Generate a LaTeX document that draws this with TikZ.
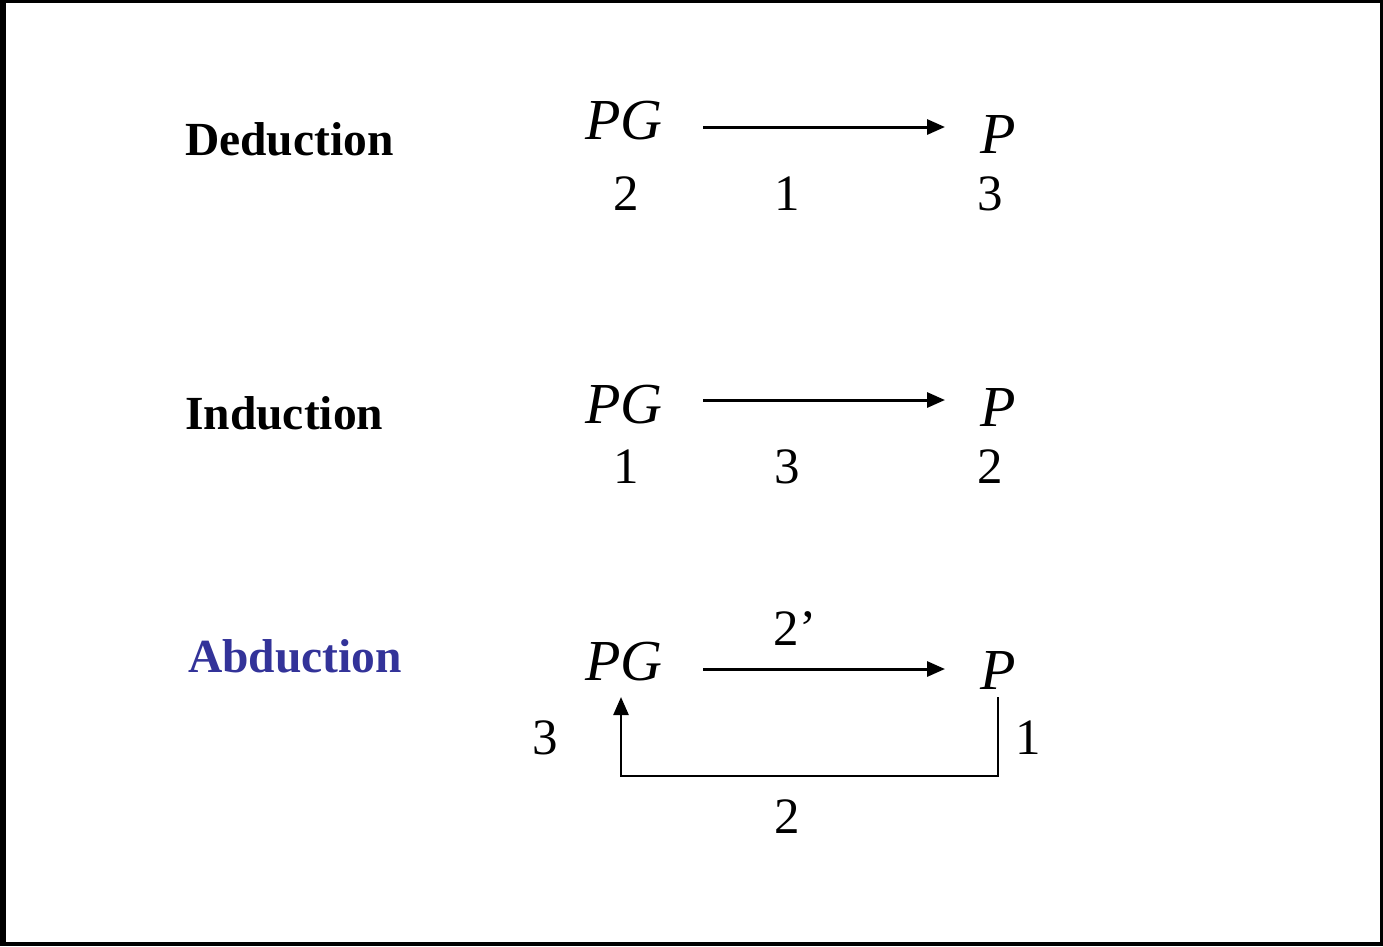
\documentclass[tikz,border=0pt]{standalone}
\usepackage{fontspec}
\setmainfont{Liberation Serif}
\usetikzlibrary{arrows.meta}
\definecolor{abdblue}{RGB}{51,51,153}
\tikzset{
  title/.style={anchor=base west, inner sep=0pt, font=\fontsize{47.5}{52}\selectfont\bfseries},
  sym/.style={anchor=base, inner sep=0pt, font=\fontsize{58}{64}\selectfont\itshape},
  num/.style={anchor=base, inner sep=0pt, font=\fontsize{51}{56}\selectfont},
  arr/.style={line width=3pt, -{Triangle[length=18pt,width=15pt]}},
  fb/.style={line width=2.5pt, -{Triangle[length=18pt,width=15pt]}},
}
\begin{document}
\begin{tikzpicture}[x=1pt,y=-1pt]
\fill[black] (0,0) rectangle (1383,946);
\fill[white] (6,3) rectangle (1380,942);
\useasboundingbox (0,0) rectangle (1383,946);
% Deduction
\node[title] (ded) at (185,155) {Deduction};
\node[sym] (pg1) at (624,139) {PG};
\node[sym] (p1) at (998,153) {P};
\node[num] (d1a) at (626,210) {2};
\node[num] (d1b) at (787,210) {1};
\node[num] (d1c) at (990,210) {3};
\coordinate (a1s) at (703,127);
\coordinate (a1e) at (945,127);
\draw[arr] (a1s) -- (a1e);
% Induction
\node[title] (ind) at (185,429) {Induction};
\node[sym] (pg2) at (624,423) {PG};
\node[sym] (p2) at (998,426) {P};
\node[num] (d2a) at (626,483) {1};
\node[num] (d2b) at (787,483) {3};
\node[num] (d2c) at (990,483) {2};
\coordinate (a2s) at (703,400);
\coordinate (a2e) at (945,400);
\draw[arr] (a2s) -- (a2e);
% Abduction
\node[title, text=abdblue] (abd) at (188,672) {Abduction};
\node[sym] (pg3) at (624,680) {PG};
\node[sym] (p3) at (998,689) {P};
\node[num] (d3top) at (795,645) {2’};
\node[num] (d3l) at (545,754) {3};
\node[num] (d3r) at (1028,754) {1};
\node[num] (d3b) at (787,833) {2};
\coordinate (a3s) at (703,669);
\coordinate (a3e) at (945,669);
\draw[arr] (a3s) -- (a3e);
\coordinate (fbs) at (998,697);
\coordinate (fbe) at (621,697);
\draw[fb] (fbs) -- (998,776) -- (621,776) -- (fbe);
\end{tikzpicture}
\end{document}
